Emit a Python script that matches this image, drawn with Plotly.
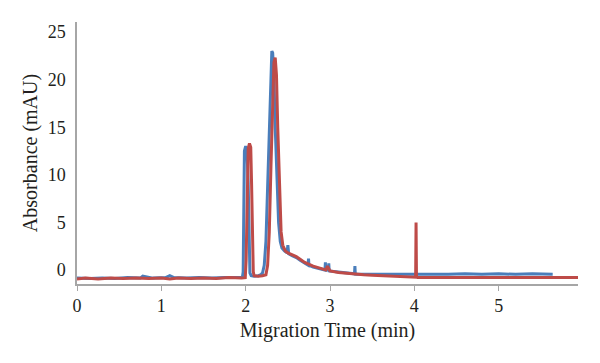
import plotly.graph_objects as go

# Blue trace (sample 1)
blue_t = [0.0, 0.15, 0.3, 0.45, 0.6, 0.75, 0.78, 0.9, 1.05, 1.1, 1.15, 1.3, 1.45, 1.6, 1.75, 1.9, 1.96,
          1.97, 1.975, 1.985, 2.0, 2.015, 2.03, 2.04, 2.05, 2.065, 2.1, 2.15, 2.18, 2.2, 2.22, 2.24, 2.26,
          2.28, 2.3, 2.31, 2.32, 2.335, 2.35, 2.37, 2.39, 2.41, 2.43, 2.46, 2.49, 2.5, 2.505, 2.51, 2.55,
          2.6, 2.65, 2.7, 2.74, 2.745, 2.75, 2.8, 2.85, 2.9, 2.94, 2.945, 2.95, 2.98, 2.985, 2.99, 3.05,
          3.1, 3.2, 3.29, 3.295, 3.3, 3.4, 3.5, 3.6, 3.7, 3.8, 3.95, 4.0, 4.1, 4.2, 4.4, 4.6, 4.8, 5.0,
          5.2, 5.4, 5.64]
blue_y = [-0.85, -0.9, -0.85, -0.9, -0.8, -0.85, -0.65, -0.85, -0.8, -0.6, -0.8, -0.85, -0.8, -0.85, -0.8, -0.8, -0.8,
          -0.2, 6.0, 12.5, 13.0, 12.7, 9.0, 3.0, -0.3, -0.6, -0.65, -0.6, -0.5, -0.3, 0.5, 3.0, 9.0,
          16.5, 21.5, 23.0, 22.8, 20.0, 15.0, 9.0, 5.0, 3.0, 2.3, 2.0, 1.8, 2.6, 1.8, 1.7, 1.5,
          1.3, 1.0, 0.7, 0.5, 1.2, 0.5, 0.3, 0.2, 0.1, 0.0, 0.8, 0.0, 0.0, 0.7, -0.1, -0.15,
          -0.2, -0.3, -0.4, 0.4, -0.45, -0.45, -0.45, -0.5, -0.5, -0.5, -0.5, -0.45, -0.45, -0.45, -0.45, -0.4, -0.45, -0.4,
          -0.45, -0.4, -0.45]

# Red trace (sample 2)
red_t = [0.0, 0.1, 0.25, 0.4, 0.55, 0.7, 0.85, 1.0, 1.1, 1.2, 1.35, 1.5, 1.65, 1.8, 1.95, 1.995,
         2.005, 2.015, 2.03, 2.045, 2.06, 2.07, 2.08, 2.09, 2.1, 2.15, 2.2, 2.24, 2.26, 2.28, 2.3,
         2.32, 2.335, 2.35, 2.365, 2.38, 2.4, 2.42, 2.44, 2.47, 2.5, 2.55, 2.6, 2.65, 2.7, 2.8, 2.9,
         2.95, 2.97, 3.0, 3.1, 3.2, 3.3, 3.4, 3.5, 3.6, 3.7, 3.8, 3.9, 4.0, 4.015, 4.02, 4.025, 4.04,
         4.2, 4.4, 4.6, 4.8, 5.0, 5.2, 5.4, 5.6, 5.8, 5.94]
red_y = [-0.95, -0.85, -0.95, -0.85, -0.9, -0.85, -0.9, -0.85, -0.95, -0.85, -0.9, -0.85, -0.9, -0.8, -0.85, -0.8,
         1.0, 8.0, 12.8, 13.3, 12.9, 9.0, 3.0, -0.2, -0.6, -0.65, -0.6, -0.5, 0.5, 4.0, 11.0,
         18.5, 21.8, 22.3, 20.5, 15.0, 8.0, 4.0, 2.6, 2.0, 1.8, 1.6, 1.4, 1.1, 0.8, 0.4, 0.1,
         0.0, 0.4, -0.1, -0.25, -0.35, -0.45, -0.5, -0.55, -0.6, -0.65, -0.65, -0.7, -0.75, -0.75, 5.0, -0.75, -0.8,
         -0.8, -0.8, -0.85, -0.8, -0.85, -0.8, -0.85, -0.8, -0.85, -0.8]

x_ticks = [0, 1, 2, 3, 4, 5]
y_ticks = [0, 5, 10, 15, 20, 25]

fig = go.Figure()
fig.add_trace(go.Scatter(x=blue_t, y=blue_y, mode="lines",
                         line=dict(color="#4a7ebb", width=3), showlegend=False))
fig.add_trace(go.Scatter(x=red_t, y=red_y, mode="lines",
                         line=dict(color="#be4b48", width=3), showlegend=False))

font = "Liberation Serif"
# page body has an 8px default margin, so the figure is sized/offset to compensate
fig.update_layout(
    width=592, height=355,
    margin=dict(l=69, r=22, t=14, b=79),
    paper_bgcolor="white", plot_bgcolor="white",
    font=dict(family=font, size=18, color="#231f20"),
    xaxis=dict(range=[0, 5.94], tickvals=x_ticks, showgrid=False, zeroline=False,
               showline=True, linecolor="#a6a6a6", linewidth=1.5, automargin=False,
               ticks="outside", ticklen=5, tickcolor="#a6a6a6",
               title=dict(text="Migration Time (min)", font=dict(size=20), standoff=8)),
    yaxis=dict(range=[-1.47, 26.05], tickvals=y_ticks, showgrid=False, zeroline=False,
               showline=True, linecolor="#a6a6a6", linewidth=1.5, ticks="", automargin=False,
               ticklabelstandoff=6,
               title=dict(text="Absorbance (mAU)", font=dict(size=20), standoff=5)),
)

fig.write_html("out.html")
